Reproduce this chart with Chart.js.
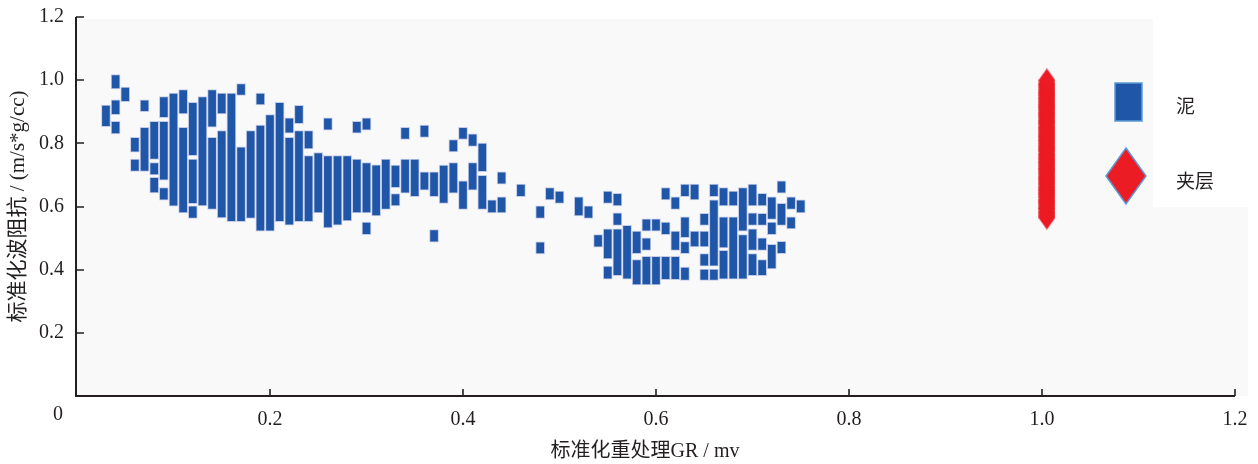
<!DOCTYPE html>
<html>
<head>
<meta charset="utf-8">
<script src="https://cdn.jsdelivr.net/npm/chart.js@4/dist/chart.umd.min.js"></script>
<style>
html,body{margin:0;padding:0;background:#fff;}
#wrap{width:1258px;height:464px;position:relative;}
</style>
</head>
<body>
<div id="wrap"><canvas id="c"></canvas></div>
<script>
// ---------- data ----------
const seriesNames = ['泥', '夹层'];
const xTitle = '标准化重处理GR / mv';
const yTitle = '标准化波阻抗 / (m/s*g/cc)';
const xTickValues = [0, 0.2, 0.4, 0.6, 0.8, 1.0, 1.2];
const xTickLabels = ['0', '0.2', '0.4', '0.6', '0.8', '1.0', '1.2'];
const yTickValues = [0, 0.2, 0.4, 0.6, 0.8, 1.0, 1.2];
const yTickLabels = ['', '0.2', '0.4', '0.6', '0.8', '1.0', '1.2'];

// 泥: each entry is one vertical run of overlapping markers (x, lowest edge, highest edge)
const mudX = [
0.03,
0.04,0.04,0.04,
0.05,
0.06,0.06,
0.07,0.07,
0.08,0.08,0.08,
0.09,0.09,0.09,
0.10,
0.11,0.11,
0.12,0.12,0.12,
0.13,
0.14,0.14,
0.15,0.15,
0.16,
0.17,0.17,
0.18,
0.19,0.19,
0.20,
0.21,
0.22,0.22,
0.23,0.23,
0.24,0.24,
0.25,
0.26,0.26,
0.27,
0.28,
0.29,0.29,
0.30,0.30,0.30,
0.31,
0.32,
0.33,0.33,
0.34,0.34,
0.35,
0.36,0.36,
0.37,0.37,
0.38,
0.39,0.39,
0.40,0.40,
0.41,0.41,
0.42,0.42,
0.43,
0.44,0.44,
0.46,
0.48,0.48,
0.49,
0.50,
0.52,
0.53,
0.54,
0.55,0.55,0.55,
0.56,0.56,0.56,
0.57,
0.58,0.58,
0.59,0.59,0.59,
0.60,0.60,
0.61,0.61,0.61,
0.62,0.62,0.62,
0.63,0.63,0.63,0.63,
0.64,0.64,
0.65,0.65,0.65,0.65,
0.66,0.66,0.66,
0.67,0.67,0.67,
0.68,0.68,
0.69,0.69,
0.70,0.70,0.70,0.70,
0.71,0.71,0.71,0.71,
0.72,0.72,0.72,
0.73,0.73,0.73,
0.74,0.74,
0.75
];
const mudLow = [
0.853,
0.972,0.891,0.830,
0.932,
0.772,0.711,
0.900,0.711,
0.749,0.700,0.643,
0.881,0.683,0.620,
0.601,
0.893,0.580,
0.761,0.609,0.562,
0.602,
0.851,0.591,
0.893,0.564,
0.552,
0.952,0.552,
0.562,
0.922,0.522,
0.522,
0.552,
0.832,0.541,
0.862,0.552,
0.782,0.552,
0.580,
0.842,0.532,
0.541,
0.554,
0.832,0.580,
0.842,0.580,0.511,
0.570,
0.591,
0.660,0.602,
0.812,0.642,
0.631,
0.819,0.652,
0.631,0.487,
0.610,
0.773,0.642,
0.812,0.591,
0.790,0.652,
0.710,0.591,
0.580,
0.671,0.580,
0.631,
0.562,0.450,
0.621,
0.610,
0.570,
0.562,
0.471,
0.610,0.434,0.370,
0.602,0.540,0.381,
0.370,
0.451,0.352,
0.522,0.461,0.352,
0.522,0.352,
0.621,0.511,0.368,
0.591,0.461,0.368,
0.631,0.501,0.451,0.366,
0.621,0.472,
0.540,0.472,0.411,0.366,
0.631,0.411,0.366,
0.602,0.469,0.370,
0.602,0.370,
0.522,0.370,
0.602,0.540,0.461,0.381,
0.602,0.540,0.461,0.381,
0.559,0.511,0.402,
0.642,0.540,0.451,
0.591,0.529,
0.580
];
const mudHigh = [
0.921,
1.018,0.938,0.870,
0.978,
0.819,0.750,
0.938,0.851,
0.870,0.739,0.692,
0.948,0.870,0.660,
0.959,
0.970,0.851,
0.930,0.750,0.602,
0.948,
0.970,0.819,
0.959,0.840,
0.959,
0.989,0.789,
0.840,
0.959,0.858,
0.891,
0.930,
0.881,0.819,
0.920,0.840,
0.840,0.761,
0.771,
0.881,0.761,
0.761,
0.761,
0.870,0.750,
0.881,0.739,0.551,
0.732,
0.750,
0.731,0.641,
0.851,0.750,
0.750,
0.858,0.710,
0.710,0.527,
0.731,
0.812,0.739,
0.851,0.681,
0.830,0.739,
0.801,0.699,
0.621,
0.710,0.631,
0.671,
0.602,0.488,
0.660,
0.649,
0.631,
0.602,
0.511,
0.649,0.529,0.411,
0.642,0.580,0.529,
0.540,
0.522,0.432,
0.561,0.501,0.442,
0.561,0.442,
0.660,0.551,0.442,
0.631,0.522,0.442,
0.671,0.567,0.489,0.408,
0.671,0.522,
0.578,0.522,0.451,0.402,
0.671,0.621,0.402,
0.660,0.567,0.461,
0.649,0.567,
0.660,0.511,
0.671,0.580,0.529,0.451,
0.642,0.578,0.501,0.432,
0.631,0.551,0.480,
0.681,0.610,0.490,
0.631,0.567,
0.621
];

// 夹层: all samples at GR ≈ 1.0
const layerX = 1.005;
const layerY = [0.565,0.571,0.578,0.584,0.592,0.597,0.604,0.611,0.617,0.622,0.63,0.637,0.643,0.65,0.655,0.662,0.67,0.676,0.683,0.689,0.695,0.702,0.709,0.716,0.721,0.728,0.735,0.741,0.748,0.754,0.761,0.767,0.775,0.781,0.787,0.793,0.8,0.807,0.813,0.82,0.826,0.833,0.84,0.846,0.852,0.86,0.866,0.872,0.879,0.886,0.892,0.898,0.905,0.912,0.918,0.924,0.931,0.938,0.944,0.951,0.957,0.963,0.97,0.977,0.984,0.99,0.999];

// ---------- styling ----------
const BLUE = '#1f56a7';
const RED = '#ec1c24';
const INK = '#231f20';
const FONT = "'Liberation Serif', 'Noto Sans CJK SC', serif";

function diamondImage(w, h, fill) {
  const c = document.createElement('canvas');
  c.width = w; c.height = h;
  const g = c.getContext('2d');
  g.beginPath();
  g.moveTo(w / 2, 0); g.lineTo(w, h / 2); g.lineTo(w / 2, h); g.lineTo(0, h / 2);
  g.closePath();
  g.fillStyle = fill; g.fill();
  return c;
}

const mudData = mudX.map((x, i) => ({ x: x, y: [mudLow[i], mudHigh[i]] }));
const layerData = layerY.map(v => ({ x: layerX, y: v }));

const decor = {
  id: 'decor',
  beforeDraw(chart) {
    const { ctx, chartArea: a } = chart;
    ctx.save();
    ctx.fillStyle = '#ffffff';
    ctx.fillRect(0, 0, chart.width, chart.height);
    ctx.fillStyle = '#f9f9fa';
    ctx.fillRect(a.left - 2, a.top + 2, (a.right + 13) - (a.left - 2), a.bottom - a.top - 2);
    ctx.fillStyle = '#ffffff';
    ctx.fillRect(1153, a.top, 100, 190);
    ctx.restore();
  },
  afterDraw(chart) {
    const { ctx, chartArea: a, scales } = chart;
    const xs = scales.x, ys = scales.y;
    ctx.save();
    ctx.strokeStyle = INK;
    ctx.lineWidth = 2;
    ctx.beginPath();
    ctx.moveTo(a.left - 1, a.top);
    ctx.lineTo(a.left - 1, a.bottom);
    ctx.lineTo(a.right, a.bottom);
    ctx.stroke();
    ctx.lineWidth = 1.6;
    ctx.beginPath();
    yTickValues.forEach(v => {
      if (v === 0) return;
      const py = Math.round(ys.getPixelForValue(v));
      ctx.moveTo(a.left - 1, py); ctx.lineTo(a.left + 7, py);
    });
    xTickValues.forEach(v => {
      if (v === 0) return;
      const px = Math.round(xs.getPixelForValue(v));
      ctx.moveTo(px, a.bottom); ctx.lineTo(px, a.bottom - 7);
    });
    ctx.stroke();
    // origin label, set to the left as in the source figure
    ctx.fillStyle = INK;
    ctx.font = '20px ' + FONT;
    ctx.textAlign = 'center';
    ctx.textBaseline = 'middle';
    ctx.fillText(xTickLabels[0], xs.getPixelForValue(0) - 19, 415);
    // x axis title
    ctx.fillText(xTitle, (a.left + a.right) / 2 - 11, 452);

    // legend
    ctx.fillStyle = BLUE;
    ctx.fillRect(1115, 83, 27, 38);
    ctx.strokeStyle = '#5b9bd5';
    ctx.lineWidth = 1.5;
    ctx.strokeRect(1115, 83, 27, 38);
    ctx.beginPath();
    ctx.moveTo(1126, 148); ctx.lineTo(1146, 176); ctx.lineTo(1126, 204); ctx.lineTo(1106, 176);
    ctx.closePath();
    ctx.fillStyle = RED; ctx.fill();
    ctx.stroke();
    ctx.fillStyle = INK;
    ctx.font = "19px 'Noto Sans CJK SC', sans-serif";
    ctx.textAlign = 'left';
    ctx.fillText(seriesNames[0], 1176, 106);
    ctx.fillText(seriesNames[1], 1176, 181);
    ctx.restore();
  }
};

new Chart(document.getElementById('c'), {
  type: 'bar',
  data: {
    datasets: [
      {
        label: seriesNames[0],
        data: mudData,
        backgroundColor: BLUE,
        borderColor: '#c3cbe6',
        borderWidth: 1,
        borderSkipped: false,
        barThickness: 9,
        grouped: false,
        order: 2
      },
      {
        type: 'scatter',
        label: seriesNames[1],
        data: layerData,
        pointStyle: diamondImage(17, 24, RED),
        showLine: false,
        order: 1
      }
    ]
  },
  options: {
    responsive: true,
    maintainAspectRatio: false,
    animation: false,
    layout: { padding: { top: 17, right: 23, left: 0, bottom: 0 } },
    plugins: { legend: { display: false }, tooltip: { enabled: false } },
    scales: {
      x: {
        type: 'linear',
        offset: false,
        min: 0, max: 1.2,
        afterBuildTicks: s => { s.ticks = xTickValues.map(v => ({ value: v })); },
        afterFit: s => { s.height = 68; s.paddingLeft = 0; s.paddingRight = 0; },
        grid: { display: false, drawTicks: false, offset: false },
        border: { display: false },
        ticks: {
          autoSkip: false, maxRotation: 0, padding: 12,
          color: INK, font: { family: FONT, size: 20 },
          callback: (v, i) => (i === 0 ? '' : xTickLabels[i])
        },
        title: { display: false }
      },
      y: {
        type: 'linear',
        min: 0, max: 1.2,
        afterBuildTicks: s => { s.ticks = yTickValues.map(v => ({ value: v })); },
        afterFit: s => { s.width = 77; s.paddingTop = 0; s.paddingBottom = 0; },
        grid: { display: false, drawTicks: false },
        border: { display: false },
        ticks: {
          autoSkip: false, padding: 13,
          color: INK, font: { family: FONT, size: 20 },
          callback: (v, i) => yTickLabels[i]
        },
        title: { display: true, text: yTitle, color: INK, font: { family: FONT, size: 21 }, padding: { top: 6, bottom: 0 } }
      }
    }
  },
  plugins: [decor]
});
</script>
</body>
</html>
